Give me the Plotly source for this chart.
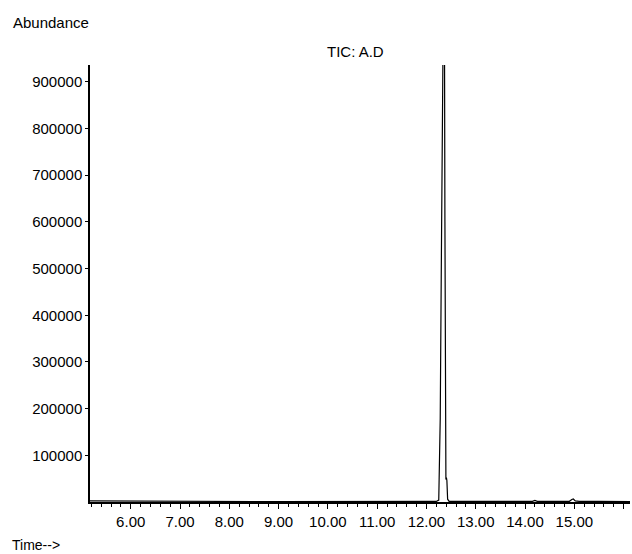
import plotly.graph_objects as go

# Retention time (min) and abundance
time_min = [5.17, 5.50, 6.00, 6.20, 6.60, 7.00, 7.50, 8.00, 8.50, 9.00, 9.50,
            10.00, 10.50, 11.00, 11.50, 12.00, 12.20, 12.25, 12.28, 12.30,
            12.32, 12.335, 12.36, 12.375, 12.385, 12.395, 12.405, 12.415,
            12.43, 12.46, 12.60, 13.00, 13.50, 14.00, 14.15, 14.20, 14.25,
            14.60, 14.90, 14.95, 14.98, 15.02, 15.10, 15.50, 16.00, 16.13]
abundance = [2500, 2200, 2000, 1500, 1200, 1000, 1000, 1200, 1000, 1000, 900,
             800, 800, 700, 800, 900, 1200, 4000, 180000, 480000,
             950000, 1300000, 1300000, 600000, 120000, 48000, 52000, 46000,
             6000, 1500, 1200, 1000, 1000, 1200, 1500, 3500, 1500,
             1200, 1500, 5500, 6500, 2500, 1500, 1200, 1000, 900]

x_ticks = [6, 7, 8, 9, 10, 11, 12, 13, 14, 15, 16]
x_tick_labels = ["6.00", "7.00", "8.00", "9.00", "10.00", "11.00", "12.00",
                 "13.00", "14.00", "15.00", ""]
y_ticks = [100000, 200000, 300000, 400000, 500000, 600000, 700000, 800000, 900000]
y_tick_labels = [str(v) for v in y_ticks]

FONT = "Liberation Sans, Arial, sans-serif"

fig = go.Figure()
fig.add_trace(go.Scatter(x=time_min, y=abundance, mode="lines",
                         line=dict(color="black", width=1.2),
                         hoverinfo="skip", showlegend=False))

fig.update_layout(
    width=632, height=554,
    margin=dict(l=90, r=2, t=65, b=52),
    paper_bgcolor="white", plot_bgcolor="white",
    font=dict(family=FONT, size=15, color="black"),
    xaxis=dict(range=[5.174, 16.13], tickvals=x_ticks, ticktext=x_tick_labels,
               ticks="outside", ticklen=5, tickwidth=1, tickcolor="black",
               minor=dict(dtick=0.2, tick0=0, ticks="outside", ticklen=3,
                          tickcolor="black", tickwidth=1),
               showline=True, linecolor="black", linewidth=1.5,
               showgrid=False, zeroline=False,
               tickfont=dict(family=FONT, size=15)),
    yaxis=dict(range=[0, 936000], tickvals=y_ticks, ticktext=y_tick_labels,
               ticks="outside", ticklen=3, tickwidth=1, tickcolor="black",
               showline=True, linecolor="black", linewidth=1.5,
               showgrid=False, zeroline=False,
               tickfont=dict(family=FONT, size=15)),
    annotations=[
        dict(text="Abundance", xref="paper", yref="paper", x=-0.146, y=1.0,
             xanchor="left", yanchor="bottom", yshift=32, showarrow=False,
             font=dict(family=FONT, size=15)),
        dict(text="TIC: A.D", xref="paper", yref="paper", x=0.492, y=1.0,
             xanchor="center", yanchor="bottom", yshift=3, showarrow=False,
             font=dict(family=FONT, size=15)),
        dict(text="Time-->", xref="paper", yref="paper", x=-0.148, y=0.0,
             xanchor="left", yanchor="top", yshift=-33, showarrow=False,
             font=dict(family=FONT, size=14)),
    ],
)

fig.write_html("out.html", config={"displayModeBar": False},
               post_script="document.body.style.margin='0';document.body.style.padding='0';")
